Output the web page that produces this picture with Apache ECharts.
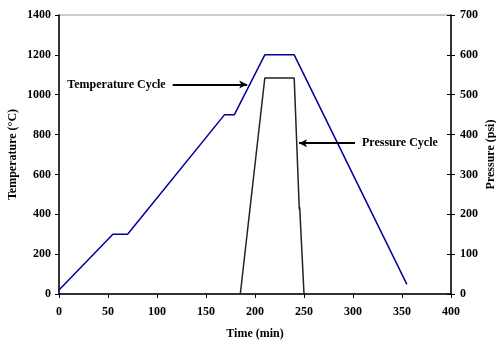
<!DOCTYPE html>
<html><head><meta charset="utf-8">
<script src="https://cdn.jsdelivr.net/npm/echarts@6/dist/echarts.min.js"></script>
<style>html,body{margin:0;padding:0;background:#fff}#c{width:496px;height:341px}</style>
</head><body><div id="c"></div>
<script>
const tempTime = [0, 55, 70, 169, 179, 210, 240, 355];
const tempValue = [20, 300, 300, 900, 900, 1200, 1200, 48];
const pressTime = [185, 210, 240, 245.2, 245.6, 250];
const pressValue = [0, 542, 542, 212, 218, 0];
const xTicks = [0, 50, 100, 150, 200, 250, 300, 350, 400];
const tempTicks = [0, 200, 400, 600, 800, 1000, 1200, 1400];
const pressTicks = [0, 100, 200, 300, 400, 500, 600, 700];
const annotations = [
  {text: 'Temperature Cycle', from: [116, 1051], to: [192, 1051]},
  {text: 'Pressure Cycle', from: [302, 757], to: [245, 757]}
];

const font = {fontFamily: 'Liberation Serif', fontWeight: 'bold', fontSize: 12, color: '#000'};
const chart = echarts.init(document.getElementById('c'));
const markLineBase = {
  silent: true, symbol: ['none', 'arrow'], symbolSize: [6, 8],
  lineStyle: {color: '#000', width: 2, type: 'solid'},
  label: Object.assign({show: true, position: 'start', formatter: p => p.name, distance: 7}, font)
};
chart.setOption({
  animation: false,
  grid: {left: 59, right: 45, top: 15, bottom: 47, outerBoundsMode: 'none', containLabel: false,
    show: true, borderColor: '#999', borderWidth: 1},
  xAxis: {
    type: 'value', min: 0, max: 400, interval: 50,
    name: 'Time (min)', nameLocation: 'middle', nameGap: 34, nameMoveOverlap: false,
    nameTextStyle: font,
    axisLine: {show: true, lineStyle: {color: '#000', width: 1.5}},
    axisTick: {show: true, length: 4, lineStyle: {color: '#000'}},
    axisLabel: Object.assign({}, font, {margin: 12, formatter: v => String(v)}),
    splitLine: {show: false}
  },
  yAxis: [{
    type: 'value', min: 0, max: 1400, interval: 200,
    name: 'Temperature (°C)', nameLocation: 'middle', nameGap: 40, nameRotate: 90, nameMoveOverlap: false,
    nameTextStyle: font,
    axisLine: {show: true, onZero: false, lineStyle: {color: '#000', width: 1.5}},
    axisTick: {show: true, length: 4, lineStyle: {color: '#000'}},
    axisLabel: Object.assign({}, font, {margin: 8, formatter: v => String(v)}),
    splitLine: {show: false}
  }, {
    type: 'value', min: 0, max: 700, interval: 100, position: 'right',
    name: 'Pressure (psi)', nameLocation: 'middle', nameGap: 34, nameRotate: 90, nameMoveOverlap: false,
    nameTextStyle: font,
    axisLine: {show: true, onZero: false, lineStyle: {color: '#000', width: 1.5}},
    axisTick: {show: true, length: 4, lineStyle: {color: '#000'}},
    axisLabel: Object.assign({}, font, {margin: 9, formatter: v => String(v)}),
    splitLine: {show: false}
  }, {
    type: 'value', min: 0, max: 700, interval: 100, position: 'right',
    axisLine: {show: false, onZero: false},
    axisTick: {show: true, inside: true, length: 4, lineStyle: {color: '#000'}},
    axisLabel: {show: false},
    splitLine: {show: false}
  }],
  series: [{
    type: 'line', yAxisIndex: 0, symbol: 'none',
    data: tempTime.map((t, i) => [t, tempValue[i]]),
    lineStyle: {color: '#000099', width: 1.5},
    markLine: Object.assign({}, markLineBase, {
      data: [[{name: annotations[0].text, coord: annotations[0].from}, {coord: annotations[0].to}]]
    })
  }, {
    type: 'line', yAxisIndex: 1, symbol: 'none',
    data: pressTime.map((t, i) => [t, pressValue[i]]),
    lineStyle: {color: '#222', width: 1.5}
  }, {
    type: 'line', yAxisIndex: 0, symbol: 'none', data: [],
    markLine: Object.assign({}, markLineBase, {
      data: [[{name: annotations[1].text, coord: annotations[1].from}, {coord: annotations[1].to}]]
    })
  }]
});
</script></body></html>
